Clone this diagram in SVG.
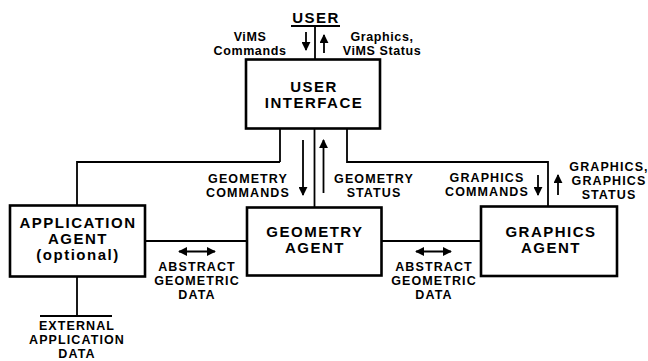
<svg xmlns="http://www.w3.org/2000/svg" width="648" height="361" viewBox="0 0 648 361">
<style>
.box{fill:#fff;stroke:#000;stroke-width:2.6}
.ln{fill:none;stroke:#000;stroke-width:1.8}
.ar{fill:none;stroke:#000;stroke-width:1.8}
text{font-family:"Liberation Sans",Arial,sans-serif;font-weight:bold;fill:#000;text-anchor:middle}
.big{font-size:15px;letter-spacing:1.5px}
.sm{font-size:12.5px;letter-spacing:1.1px}
.lc{font-size:12.5px;letter-spacing:0.6px}
</style>
<defs>
<marker id="ah" viewBox="0 0 10 10" refX="9" refY="5" markerWidth="9" markerHeight="9" markerUnits="userSpaceOnUse" orient="auto-start-reverse">
<path d="M0,0 L10,5 L0,10 z" fill="#000"/>
</marker>
</defs>
<rect width="648" height="361" fill="#fff"/>
<g id="connectors">
<line class="ln" x1="291" y1="26" x2="340" y2="26"/>
<line class="ln" x1="315" y1="26" x2="315" y2="59"/>
<line class="ln" x1="280" y1="128" x2="280" y2="162"/>
<polyline class="ln" points="280,162 77,162 77,205"/>
<line class="ln" x1="314.5" y1="128" x2="314.5" y2="207"/>
<polyline class="ln" points="347,128 347,162 548,162 548,206"/>
<line class="ln" x1="145" y1="241" x2="247" y2="241"/>
<line class="ln" x1="381" y1="241" x2="482" y2="241"/>
<line class="ln" x1="77" y1="277" x2="77" y2="316"/>
<line class="ln" x1="40" y1="316" x2="112" y2="316"/>
<line class="ar" x1="306" y1="32" x2="306" y2="50" marker-end="url(#ah)"/>
<line class="ar" x1="324" y1="53" x2="324" y2="35" marker-end="url(#ah)"/>
<line class="ar" x1="303" y1="140" x2="303" y2="195" marker-end="url(#ah)"/>
<line class="ar" x1="323.5" y1="193" x2="323.5" y2="140" marker-end="url(#ah)"/>
<line class="ar" x1="538" y1="175" x2="538" y2="195" marker-end="url(#ah)"/>
<line class="ar" x1="558" y1="195" x2="558" y2="175" marker-end="url(#ah)"/>
<line class="ar" x1="179" y1="251.5" x2="215" y2="251.5" marker-start="url(#ah)" marker-end="url(#ah)"/>
<line class="ar" x1="416" y1="251.5" x2="451" y2="251.5" marker-start="url(#ah)" marker-end="url(#ah)"/>
</g>
<g id="user">
<text class="big" x="316" y="23">USER</text>
</g>
<g id="user-interface">
<rect class="box" x="246" y="59.5" width="134" height="69"/>
<text class="big" x="314" y="92">USER</text>
<text class="big" x="314" y="108">INTERFACE</text>
</g>
<g id="application-agent">
<rect class="box" x="10" y="205.5" width="135" height="71"/>
<text class="big" x="78" y="228">APPLICATION</text>
<text class="big" x="78" y="244">AGENT</text>
<text class="big" x="78" y="260">(optional)</text>
</g>
<g id="geometry-agent">
<rect class="box" x="247" y="207.5" width="134.5" height="68"/>
<text class="big" x="315" y="237">GEOMETRY</text>
<text class="big" x="315" y="253">AGENT</text>
</g>
<g id="graphics-agent">
<rect class="box" x="481" y="206.5" width="136" height="69.5"/>
<text class="big" x="551" y="237">GRAPHICS</text>
<text class="big" x="551" y="253">AGENT</text>
</g>
<g id="labels">
<text class="lc" x="250" y="41">ViMS</text>
<text class="lc" x="250" y="55">Commands</text>
<text class="lc" x="382" y="41">Graphics,</text>
<text class="lc" x="382" y="55">ViMS Status</text>
<text class="sm" x="248" y="183">GEOMETRY</text>
<text class="sm" x="248" y="197">COMMANDS</text>
<text class="sm" x="374" y="183">GEOMETRY</text>
<text class="sm" x="374" y="197">STATUS</text>
<text class="sm" x="487" y="182">GRAPHICS</text>
<text class="sm" x="487" y="196">COMMANDS</text>
<text class="sm" x="609" y="171">GRAPHICS,</text>
<text class="sm" x="609" y="185">GRAPHICS</text>
<text class="sm" x="609" y="199">STATUS</text>
<text class="sm" x="197" y="271">ABSTRACT</text>
<text class="sm" x="197" y="285">GEOMETRIC</text>
<text class="sm" x="197" y="299">DATA</text>
<text class="sm" x="434" y="271">ABSTRACT</text>
<text class="sm" x="434" y="285">GEOMETRIC</text>
<text class="sm" x="434" y="299">DATA</text>
<text class="sm" x="77" y="330">EXTERNAL</text>
<text class="sm" x="77" y="344">APPLICATION</text>
<text class="sm" x="77" y="358">DATA</text>
</g>
</svg>
